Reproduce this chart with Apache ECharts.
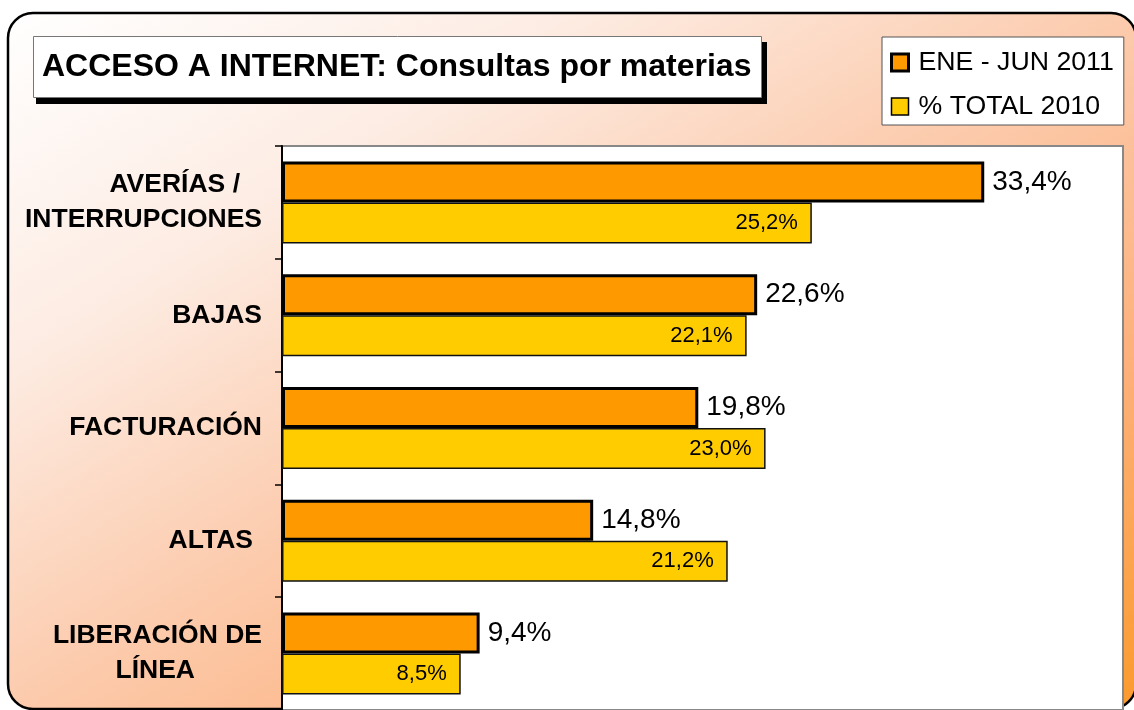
<!DOCTYPE html>
<html>
<head>
<meta charset="utf-8">
<script src="https://cdn.jsdelivr.net/npm/echarts@6/dist/echarts.min.js"></script>
<style>
html,body{margin:0;padding:0;background:#fff;}
#c{width:1134px;height:710px;}
</style>
</head>
<body>
<div id="c"></div>
<script>
const titleText = 'ACCESO A INTERNET: Consultas por materias';
const categories = ['AVERÍAS /\nINTERRUPCIONES', 'BAJAS', 'FACTURACIÓN', 'ALTAS', 'LIBERACIÓN DE\nLÍNEA'];
const seriesNames = ['ENE - JUN 2011', '% TOTAL 2010'];
const valuesJun2011 = [33.4, 22.6, 19.8, 14.8, 9.4];
const valuesTotal2010 = [25.2, 22.1, 23.0, 21.2, 8.5];
const axisMin = 0;
const axisMax = 40;

const FONT = '"Liberation Sans", Arial, sans-serif';
const fmt = v => v.toFixed(1).replace('.', ',') + '%';

// right-side inset (px) of particular label lines, as in the reference
const lineInset = { 'AVERÍAS /': 22, 'LÍNEA': 67, 'ALTAS': 9 };
const rich = { p0: { fontSize: 26.5, fontWeight: 'bold', fontFamily: FONT, color: '#000', lineHeight: 35 } };
Object.values(lineInset).forEach(p => {
  rich['p' + p] = { fontSize: 26.5, fontWeight: 'bold', fontFamily: FONT, color: '#000', lineHeight: 35, padding: [0, p, 0, 0] };
});

// background gradient whose bands run parallel to the box's anti-diagonal
const BW = 1128, BH = 696;
const gA = 2 * BW * BH / (BW * BW + BH * BH);
const gx2 = gA * BH / BW, gy2 = gA * BW / BH;

const chart = echarts.init(document.getElementById('c'), null, { renderer: 'canvas' });
chart.setOption({
  animation: false,
  backgroundColor: '#ffffff',
  graphic: [
    {
      type: 'rect', z: -10, silent: true,
      shape: { x: 8, y: 13, width: BW, height: BH, r: 25 },
      style: {
        fill: new echarts.graphic.LinearGradient(0, 0, gx2, gy2, [
          { offset: 0, color: '#ffffff' },
          { offset: 0.25, color: '#fdece3' },
          { offset: 0.5, color: '#fccbad' },
          { offset: 0.75, color: '#fdb07a' },
          { offset: 1, color: '#fb9a2c' }
        ]),
        stroke: '#000', lineWidth: 2.5
      }
    },
    {
      type: 'rect', z: -1, silent: true,
      shape: { x: 36, y: 42, width: 731, height: 62 },
      style: { fill: '#000' }
    }
  ],
  title: {
    text: titleText,
    left: 33, top: 36,
    padding: [15, 10, 15, 9],
    backgroundColor: '#ffffff',
    borderColor: '#777', borderWidth: 1,
    textStyle: { fontFamily: FONT, fontSize: 32, fontWeight: 'bold', color: '#000' }
  },
  legend: {
    orient: 'vertical',
    left: 882, top: 37,
    padding: [12, 10, 5, 8],
    itemGap: 17,
    itemWidth: 17, itemHeight: 17,
    backgroundColor: '#ffffff',
    borderColor: '#555', borderWidth: 1,
    textStyle: { fontFamily: FONT, fontSize: 26.7, color: '#000', padding: [0, 0, 0, 5] },
    data: [
      { name: seriesNames[0], icon: 'rect', itemStyle: { color: '#ff9900', borderColor: '#000', borderWidth: 3 } },
      { name: seriesNames[1], icon: 'rect', itemStyle: { color: '#ffcc00', borderColor: '#000', borderWidth: 1.5 } }
    ]
  },
  grid: {
    left: 282, right: 11, top: 146, height: 567.5,
    show: true, backgroundColor: '#ffffff', borderColor: '#888', borderWidth: 2,
    containLabel: false
  },
  xAxis: {
    type: 'value', min: axisMin, max: axisMax, show: false,
    splitLine: { show: false }
  },
  yAxis: {
    type: 'category', data: categories, inverse: true,
    axisLine: { show: true, lineStyle: { color: '#000', width: 2 } },
    axisTick: { show: true, length: 7, lineStyle: { color: '#000', width: 1.5 } },
    axisLabel: {
      margin: 20, align: 'right',
      formatter: v => v.split('\n').map(line => {
        const key = line.trim();
        const p = lineInset[key] || 0;
        return '{p' + p + '|' + line + '}';
      }).join('\n'),
      rich: rich
    }
  },
  series: [
    {
      name: seriesNames[0], type: 'bar', data: valuesJun2011,
      barWidth: 41, barGap: '0%',
      itemStyle: { color: '#ff9900', borderColor: '#000', borderWidth: 3 },
      label: { show: true, position: 'right', distance: 8, formatter: p => fmt(p.value),
        fontFamily: FONT, fontSize: 28, color: '#000' }
    },
    {
      name: seriesNames[1], type: 'bar', data: valuesTotal2010,
      barWidth: 41, barGap: '0%',
      itemStyle: { color: '#ffcc00', borderColor: '#111', borderWidth: 1.5 },
      label: { show: true, position: 'insideRight', distance: 14, formatter: p => fmt(p.value),
        fontFamily: FONT, fontSize: 22, color: '#000' }
    }
  ]
});
</script>
</body>
</html>
